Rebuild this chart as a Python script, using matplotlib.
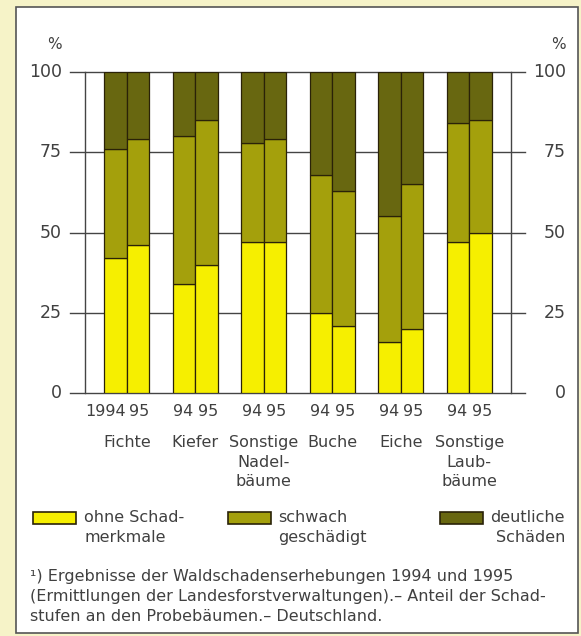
import matplotlib.pyplot as plt
from matplotlib.patches import Rectangle

# Anteil der Schadstufen (%), je Baumart 1994 und 1995
baumarten = ["Fichte", "Kiefer", "Sonstige\nNadel-\nbäume", "Buche", "Eiche", "Sonstige\nLaub-\nbäume"]
jahre = ["94", "95"]
ohne_94 = [42, 34, 47, 25, 16, 47]
ohne_95 = [46, 40, 47, 21, 20, 50]
schwach_94 = [34, 46, 31, 43, 39, 37]
schwach_95 = [33, 45, 32, 42, 45, 35]
deutlich_94 = [24, 20, 22, 32, 45, 16]
deutlich_95 = [21, 15, 21, 37, 35, 15]
yticks = [0, 25, 50, 75, 100]

c_ohne = "#f6ef00"
c_schwach = "#a4a00c"
c_deutlich = "#686710"
edge = "#2a2208"
txt = "#404040"

plt.rcParams['font.family'] = ['DejaVu Sans']

fig = plt.figure(figsize=(5.81, 6.36), dpi=100)
fig.patch.set_facecolor("#f6f3c8")
# white panel
fig.patches.append(Rectangle((16/581, 1-633/636), 562/581, 626/636, transform=fig.transFigure,
                             facecolor="white", edgecolor="#555555", lw=1.2, zorder=-5))

ax = fig.add_axes([85/581, 1-393/636, 426/581, 321/636])
ax.set_facecolor("none")
ax.set_xlim(-0.61, 5.61)
ax.set_ylim(0, 100)
w = 0.33

for j, (o, s, d) in enumerate([(ohne_94, schwach_94, deutlich_94), (ohne_95, schwach_95, deutlich_95)]):
    xs = [i - w/2 + j*w for i in range(len(baumarten))]
    bot2 = [a + b for a, b in zip(o, s)]
    ax.bar(xs, o, width=w, color=c_ohne, edgecolor=edge, lw=0.9, zorder=3)
    ax.bar(xs, s, width=w, bottom=o, color=c_schwach, edgecolor=edge, lw=0.9, zorder=3)
    ax.bar(xs, d, width=w, bottom=bot2, color=c_deutlich, edgecolor=edge, lw=0.9, zorder=3)

# horizontal lines with ticks beyond both axes
tr = ax.get_yaxis_transform()
for v in yticks:
    ax.plot([-15/426, 1+14/426], [v, v], transform=tr, color="#444444", lw=1.0, clip_on=False, zorder=1)
    ax.text(-23/426, v, str(v), transform=tr, ha="right", va="center", fontsize=12.5, color=txt)
    ax.text(1+55/426, v, str(v), transform=tr, ha="right", va="center", fontsize=12.5, color=txt)
ax.text(-23/426, 100 + 25*27/80, "%", transform=tr, ha="right", va="center", fontsize=11, color=txt)
ax.text(1+55/426, 100 + 25*27/80, "%", transform=tr, ha="right", va="center", fontsize=11, color=txt)

for side in ["top", "bottom"]:
    ax.spines[side].set_visible(False)
for side in ["left", "right"]:
    ax.spines[side].set_color("#444444")
    ax.spines[side].set_linewidth(1.0)
ax.set_yticks([])

xt, xl = [], []
for i in range(len(baumarten)):
    xt += [i - w/2 - 0.01, i + w/2 + 0.02]
    xl += ["1994" if i == 0 else jahre[0], jahre[1]]
xt[0] = -w/2 - 0.14
ax.set_xticks(xt)
ax.set_xticklabels(xl, fontsize=11.5, color=txt)
ax.tick_params(axis="x", length=0, pad=8)

for i, name in enumerate(baumarten):
    ax.text(i, -13, name, ha="center", va="top", fontsize=11.5, color=txt, linespacing=1.4)

# legend
leg = [(c_ohne, 33, "ohne Schad-\nmerkmale", 84, "left"),
       (c_schwach, 228, "schwach\ngeschädigt", 278, "left"),
       (c_deutlich, 440, "deutliche\nSchäden", 565, "right")]
for col, px, label, tx, ha in leg:
    fig.patches.append(Rectangle((px/581, 1-524/636), 43/581, 12/636, transform=fig.transFigure,
                                 facecolor=col, edgecolor=edge, lw=1.2, zorder=2))
    fig.text(tx/581, 1-510/636, label, ha=ha, va="top", fontsize=11.5, color=txt,
             linespacing=1.4, multialignment=ha)

fig.text(30/581, 1-569/636,
         "¹) Ergebnisse der Waldschadenserhebungen 1994 und 1995\n"
         "(Ermittlungen der Landesforstverwaltungen).– Anteil der Schad-\n"
         "stufen an den Probebäumen.– Deutschland.",
         ha="left", va="top", fontsize=11.5, color=txt, linespacing=1.4)

fig.savefig("out.png", dpi=100, facecolor=fig.get_facecolor())
